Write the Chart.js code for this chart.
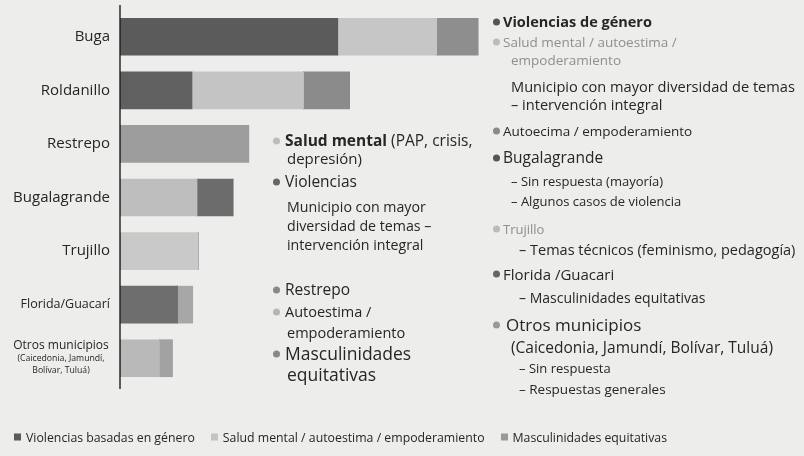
<!DOCTYPE html>
<html>
<head>
<meta charset="utf-8">
<script src="https://cdn.jsdelivr.net/npm/chart.js@4/dist/chart.umd.min.js"></script>
<style>
  html, body { margin:0; padding:0; }
  body { width:804px; height:456px; background:#ededeb; position:relative; overflow:hidden;
         font-family: "Open Sans", Lato, sans-serif; color:#262626; }
  #wrap { position:absolute; left:0; top:0; width:804px; height:456px; }
  .t { position:absolute; white-space:nowrap; transform:translateY(-50%); line-height:1.1; }
  .b { position:absolute; width:7px; height:7px; border-radius:50%; transform:translateY(-50%); }
  .lg { position:absolute; top:437px; left:14px; transform:translateY(-50%); font-size:12.3px; white-space:nowrap; display:flex; align-items:center; }
  .it { display:flex; align-items:center; margin-right:16px; }
  .sq { display:inline-block; width:7px; height:7px; margin-right:5px; }
</style>
</head>
<body>
<div id="wrap"><canvas id="c" width="804" height="456"></canvas></div>
<script>
// ---- data ----
const categories = ["Buga", "Roldanillo", "Restrepo", "Bugalagrande", "Trujillo", "Florida/Guacarí", "Otros municipios"];
const violencias      = [60.5, 20, 0, 0, 0, 16, 0];
const saludMental     = [27.5, 31, 0, 21.4, 21.7, 0, 11];
const violenciasTras  = [0, 0, 0, 10, 0, 0, 0];   // Violencias segment drawn after Salud (Bugalagrande)
const masculinidades  = [11.5, 12.8, 35.8, 0, 0, 4.2, 3.6];
const seriesNames = ["Violencias basadas en género", "Salud mental / autoestima / empoderamiento", "Masculinidades equitativas"];

// ---- styles ----
const cDark  = ["#5b5b5b", "#606060", "#666", "#6c6c6c", "#666", "#6e6e6e", "#666"];
const cLight = ["#c6c6c6", "#c4c4c4", "#c4c4c4", "#bebebe", "#c9c9c9", "#c4c4c4", "#b9b9b9"];
const cMid   = ["#8e8e8e", "#8b8b8b", "#9d9d9d", "#8e8e8e", "#8e8e8e", "#a7a7a7", "#a2a2a2"];
const FONT = '"Open Sans"';

const labelPlugin = {
  id: 'labels',
  afterDraw(chart) {
    const ctx = chart.ctx, ys = chart.scales.y, xs = chart.scales.x, a = chart.chartArea;
    const x0 = xs.getPixelForValue(0);
    ctx.save();
    ctx.strokeStyle = '#1e1e1e'; ctx.lineWidth = 1.4;
    ctx.beginPath(); ctx.moveTo(x0, a.top - 5); ctx.lineTo(x0, a.bottom + 4); ctx.stroke();
    ctx.fillStyle = '#262626';
    ctx.textBaseline = 'middle';
    categories.forEach((lab, i) => {
      const y = ys.getPixelForValue(i);
      if (i === 6) {
        ctx.textAlign = 'center';
        ctx.font = '12px ' + FONT;
        ctx.fillText(lab, 61, y - 13);
        ctx.font = '8.7px ' + FONT;
        ctx.fillText("(Caicedonia, Jamundí,", 61, y);
        ctx.fillText("Bolívar, Tuluá)", 61, y + 12);
      } else {
        ctx.textAlign = 'right';
        ctx.font = (i === 5 ? '12.5px ' : '15px ') + FONT;
        ctx.fillText(lab, 110, y);
      }
    });
    ctx.restore();
  }
};

new Chart(document.getElementById('c'), {
  type: 'bar',
  data: {
    labels: categories,
    datasets: [
      { label: seriesNames[0], data: violencias, backgroundColor: cDark },
      { label: seriesNames[1], data: saludMental, backgroundColor: cLight },
      { label: seriesNames[0], data: violenciasTras, backgroundColor: cDark },
      { label: seriesNames[2], data: masculinidades, backgroundColor: cMid }
    ]
  },
  options: {
    indexAxis: 'y',
    responsive: false,
    animation: false,
    layout: { padding: { left: 120, right: 324, top: 10, bottom: 71 } },
    datasets: { bar: { barThickness: 37, borderWidth: 0 } },
    scales: {
      x: { stacked: true, min: 0, max: 100, display: false },
      y: { stacked: true, display: false }
    },
    plugins: { legend: { display: false }, tooltip: { enabled: false } }
  },
  plugins: [labelPlugin]
});

// ---- annotation text ----
const wrap = document.getElementById('wrap');
function line(x, y, html, size, opts = {}) {
  const d = document.createElement('div');
  d.className = 't';
  d.style.left = x + 'px'; d.style.top = y + 'px'; d.style.fontSize = size + 'px';
  if (opts.color) d.style.color = opts.color;
  if (opts.weight) d.style.fontWeight = opts.weight;
  d.innerHTML = html;
  wrap.appendChild(d);
}
function bullet(x, y, color) {
  const d = document.createElement('div');
  d.className = 'b';
  d.style.left = (x - 3.5) + 'px'; d.style.top = y + 'px'; d.style.background = color;
  wrap.appendChild(d);
}
// middle block
bullet(276, 141, '#bdbdbd'); line(285, 141, '<b>Salud mental</b> (PAP, crisis,', 15.5);
line(287, 158, 'depresión)', 15);
bullet(276, 182, '#666'); line(285, 182, 'Violencias', 15.5);
line(287, 207, 'Municipio con mayor', 14.2);
line(287, 226, 'diversidad de temas –', 14.2);
line(287, 245, 'intervención integral', 14.2);
bullet(276, 290, '#888'); line(285, 290, 'Restrepo', 15.5);
bullet(276, 312, '#b5b5b5'); line(285, 312, 'Autoestima /', 14.5);
line(287, 333, 'empoderamiento', 14.5);
bullet(276, 354, '#888'); line(285, 354, 'Masculinidades', 17.5);
line(287, 375, 'equitativas', 17.5);
// right block
bullet(496, 22, '#555'); line(503, 22, '<b>Violencias de género</b>', 14.5);
bullet(496, 42, '#bbb'); line(503, 42, 'Salud mental / autoestima /', 13.5, {color:'#8f8f8f'});
line(511, 60, 'empoderamiento', 13.5, {color:'#8f8f8f'});
line(511, 86, 'Municipio con mayor diversidad de temas', 14.6);
line(511, 104, '– intervención integral', 14.6);
bullet(496, 131, '#8a8a8a'); line(503, 131, 'Autoecima / empoderamiento', 13.5);
bullet(496, 158, '#555'); line(503, 158, 'Bugalagrande', 15.5);
line(511, 181, '– Sin respuesta (mayoría)', 13);
line(511, 201, '– Algunos casos de violencia', 13);
bullet(496, 229, '#bbb'); line(503, 229, 'Trujillo', 13, {color:'#8f8f8f'});
line(519, 250, '– Temas técnicos (feminismo, pedagogía)', 14.5);
bullet(496, 274, '#666'); line(503, 274, 'Florida /Guacari', 15);
line(519, 298, '– Masculinidades equitativas', 14);
bullet(496, 325, '#999'); line(506, 325, 'Otros municipios', 17);
line(511, 348, '(Caicedonia, Jamundí, Bolívar, Tuluá)', 15.5);
line(519, 368, '– Sin respuesta', 13);
line(519, 389, '– Respuestas generales', 13.5);
// bottom legend
const legColors = ['#5b5b5b', '#c4c4c4', '#999'];
const lg = document.createElement('div');
lg.className = 'lg';
seriesNames.forEach((n, i) => {
  lg.innerHTML += '<span class="it"><span class="sq" style="background:' + legColors[i] + '"></span>' + n + '</span>';
});
wrap.appendChild(lg);
</script>
</body>
</html>
